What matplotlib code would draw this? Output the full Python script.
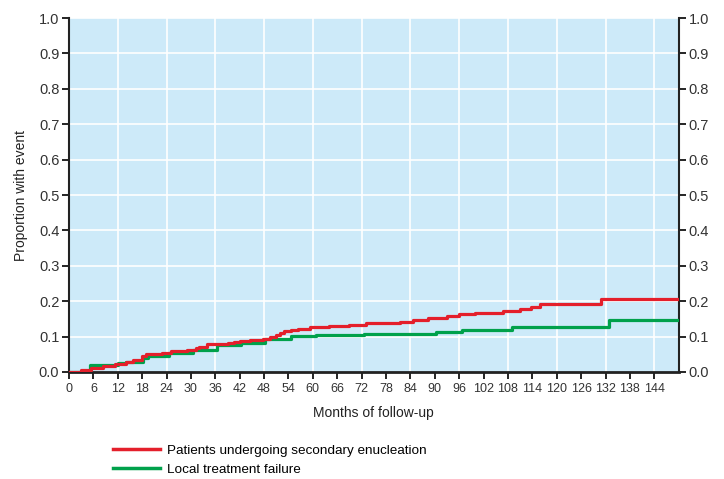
import numpy as np
import matplotlib
matplotlib.use("Agg")
import matplotlib.pyplot as plt
from matplotlib.lines import Line2D

# ---- data (step curves) ----
enuc_months = [0, 3, 5.5, 8.3, 11.2, 14, 15.7, 18, 19, 23, 25, 29, 31.3, 32, 34, 39, 40.5, 42,
               44.5, 47.7, 49.4, 51, 51.8, 53, 54.7, 56.3, 59.2, 64, 69, 73, 81.4, 84.6, 88.4,
               93, 96, 100, 106.8, 111, 113.7, 116, 131, 150]
enuc_prop = [0, 0.005, 0.012, 0.018, 0.022, 0.027, 0.033, 0.045, 0.05, 0.055, 0.06, 0.063, 0.068,
             0.072, 0.078, 0.082, 0.085, 0.088, 0.089, 0.093, 0.098, 0.104, 0.11, 0.115, 0.118,
             0.122, 0.127, 0.131, 0.134, 0.139, 0.142, 0.146, 0.153, 0.158, 0.163, 0.166, 0.171,
             0.177, 0.184, 0.193, 0.207, 0.207]

fail_months = [0, 5.1, 12, 14, 18.2, 19.5, 24.6, 30.5, 36.3, 42.4, 48.3, 54.5, 60.7, 72.7,
               90.4, 96.8, 109, 132.8, 150]
fail_prop = [0, 0.021, 0.025, 0.029, 0.039, 0.045, 0.053, 0.062, 0.075, 0.081, 0.093, 0.102,
             0.104, 0.107, 0.113, 0.119, 0.127, 0.148, 0.148]

xticks = np.arange(0, 150, 6)
yticks = np.arange(0, 1.01, 0.1)

red = "#e41f2b"
green = "#00a14b"

plt.rcParams['font.family'] = ['Liberation Sans', 'DejaVu Sans']

fig = plt.figure(figsize=(7.24, 4.79), dpi=100)
ax = fig.add_axes([0.0953, 0.2234, 0.8421, 0.7390])
ax.set_facecolor("#cdeaf9")

ax.step(enuc_months, enuc_prop, where="post", color=red, lw=2.3, zorder=4)
ax.step(fail_months, fail_prop, where="post", color=green, lw=2.3, zorder=3)

ax.set_xlim(0, 150)
ax.set_ylim(0, 1.0)
ax.set_xticks(xticks)
ax.set_xticklabels([str(v) for v in xticks], fontsize=9, color="#333333")
ax.set_yticks(yticks)
ax.set_yticklabels(["%.1f" % v for v in yticks], fontsize=10.5, color="#333333")
ax.tick_params(axis="y", which="both", direction="out", length=5, width=1.2,
               left=True, right=True, labelleft=True, labelright=True, pad=2)
ax.tick_params(axis="x", direction="out", length=5, width=1.2, pad=3)

# grid: verticals every 12 months, horizontals every 0.1
for gx in range(12, 150, 12):
    ax.axvline(gx, color="white", lw=1.2, zorder=1)
for gy in yticks[1:]:
    ax.axhline(gy, color="white", lw=1.2, zorder=1)

ax.spines["top"].set_visible(False)
ax.spines["left"].set_linewidth(1.5)
ax.spines["right"].set_linewidth(1.5)
ax.spines["bottom"].set_linewidth(2.0)
for s in ["left", "right", "bottom"]:
    ax.spines[s].set_color("#222222")

ax.set_xlabel("Months of follow-up", fontsize=10, color="#222222", labelpad=8)
ax.set_ylabel("Proportion with event", fontsize=10, color="#222222", labelpad=8)

handles = [Line2D([], [], color=red, lw=2.5), Line2D([], [], color=green, lw=2.5)]
labels = ["Patients undergoing secondary enucleation", "Local treatment failure"]
fig.legend(handles, labels, loc="upper left", bbox_to_anchor=(0.156, 0.072),
           frameon=False, fontsize=9.7, handlelength=3.5, handletextpad=0.5,
           labelspacing=0.5, borderpad=0, borderaxespad=0)

fig.savefig("out.png", dpi=100)
